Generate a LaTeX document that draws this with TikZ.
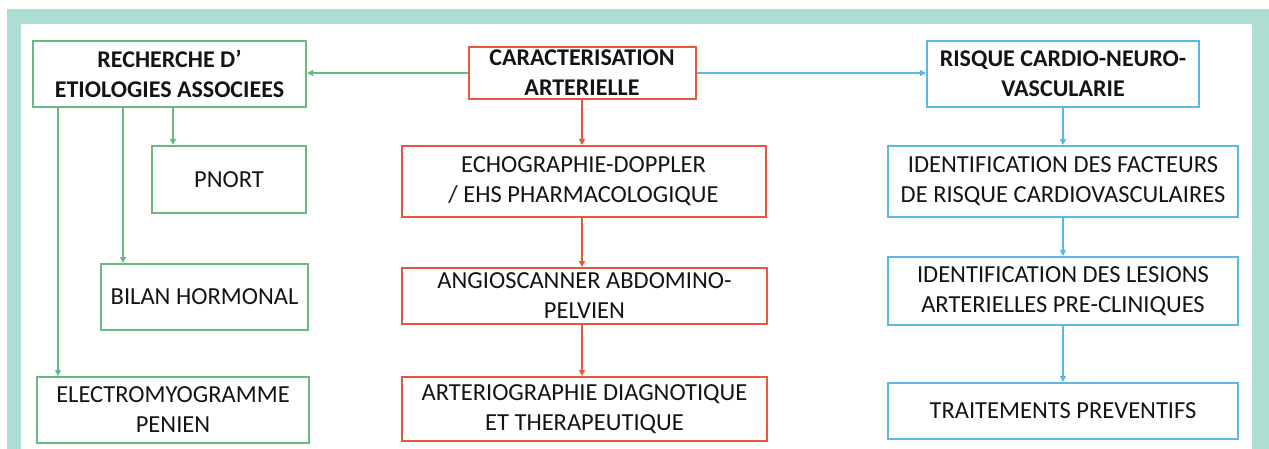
\documentclass[tikz,border=0pt]{standalone}
\usepackage{fontspec}
\setmainfont{Carlito}
\usetikzlibrary{arrows.meta}
\definecolor{frame}{HTML}{AEDDD3}
\definecolor{gcol}{HTML}{66BA82}
\definecolor{rcol}{HTML}{E5583E}
\definecolor{bcol}{HTML}{5CB8E4}
\definecolor{txt}{HTML}{141414}
\tikzset{
  box/.style={draw, line width=2pt, inner sep=0pt, align=center, text=txt,
    font=\fontsize{24.5}{30}\selectfont},
  title/.style={box, font=\fontsize{24}{30}\selectfont\bfseries},
  gbox/.style={box, draw=gcol},
  rbox/.style={box, draw=rcol},
  bbox/.style={box, draw=bcol},
  conn/.style={line width=1.3pt, -{Triangle[length=6pt,width=6pt]}},
  gconn/.style={conn, draw=gcol, fill=gcol},
  rconn/.style={conn, draw=rcol, fill=rcol},
  bconn/.style={conn, draw=bcol, fill=bcol},
}
\begin{document}
\begin{tikzpicture}[x=1pt,y=-1pt]
\useasboundingbox (0,0) rectangle (1269,449);
% frame
\fill[frame] (7,9) rectangle (1269,24);
\fill[frame] (7,9) rectangle (21,449);
\fill[frame] (1252,9) rectangle (1269,449);

% left column
\node[title, draw=gcol, minimum width=273pt, minimum height=66pt] (rech) at (169.5,74) {RECHERCHE D’\\ETIOLOGIES ASSOCIEES};
\node[gbox, minimum width=154pt, minimum height=67pt] (pnort) at (229,179.5) {PNORT};
\node[gbox, minimum width=207pt, minimum height=66pt] (bilan) at (204.5,297) {BILAN HORMONAL};
\node[gbox, minimum width=272pt, minimum height=66pt] (electro) at (173,410) {ELECTROMYOGRAMME\\PENIEN};

% centre column
\node[title, draw=rcol, minimum width=227pt, minimum height=52pt] (carac) at (582,73) {CARACTERISATION\\ARTERIELLE};
\node[rbox, minimum width=364pt, minimum height=71pt] (echo) at (583.5,181.5) {ECHOGRAPHIE-DOPPLER\\/ EHS PHARMACOLOGIQUE};
\node[rbox, minimum width=365pt, minimum height=56pt] (angio) at (584.5,296) {ANGIOSCANNER ABDOMINO-\\PELVIEN};
\node[rbox, minimum width=365pt, minimum height=64pt] (arterio) at (584.5,409) {ARTERIOGRAPHIE DIAGNOTIQUE\\ET THERAPEUTIQUE};

% right column
\node[title, draw=bcol, minimum width=272pt, minimum height=66pt] (risque) at (1063,74) {RISQUE CARDIO-NEURO-\\VASCULARIE};
\node[bbox, minimum width=350pt, minimum height=71pt] (id1) at (1063,181.5) {IDENTIFICATION DES FACTEURS\\DE RISQUE CARDIOVASCULAIRES};
\node[bbox, minimum width=350pt, minimum height=68pt] (id2) at (1063,291) {IDENTIFICATION DES LESIONS\\ARTERIELLES PRE-CLINIQUES};
\node[bbox, minimum width=350pt, minimum height=56pt] (trait) at (1063,411) {TRAITEMENTS PREVENTIFS};

% connectors from the centre title
\draw[gconn] (carac.west) -- (carac.west -| rech.east);
\draw[bconn] (carac.east) -- (carac.east -| risque.west);

% left branches
\coordinate (l1) at (58,107);
\coordinate (l2) at (123,107);
\coordinate (l3) at (173,107);
\draw[gconn] (l1) -- (l1 |- electro.north);
\draw[gconn] (l2) -- (l2 |- bilan.north);
\draw[gconn] (l3) -- (l3 |- pnort.north);

% centre chain
\draw[rconn] (carac.south) -- (carac.south |- echo.north);
\draw[rconn] (carac.south |- echo.south) -- (carac.south |- angio.north);
\draw[rconn] (carac.south |- angio.south) -- (carac.south |- arterio.north);

% right chain
\draw[bconn] (risque.south) -- (id1.north);
\draw[bconn] (id1.south) -- (id2.north);
\draw[bconn] (id2.south) -- (trait.north);
\end{tikzpicture}
\end{document}
